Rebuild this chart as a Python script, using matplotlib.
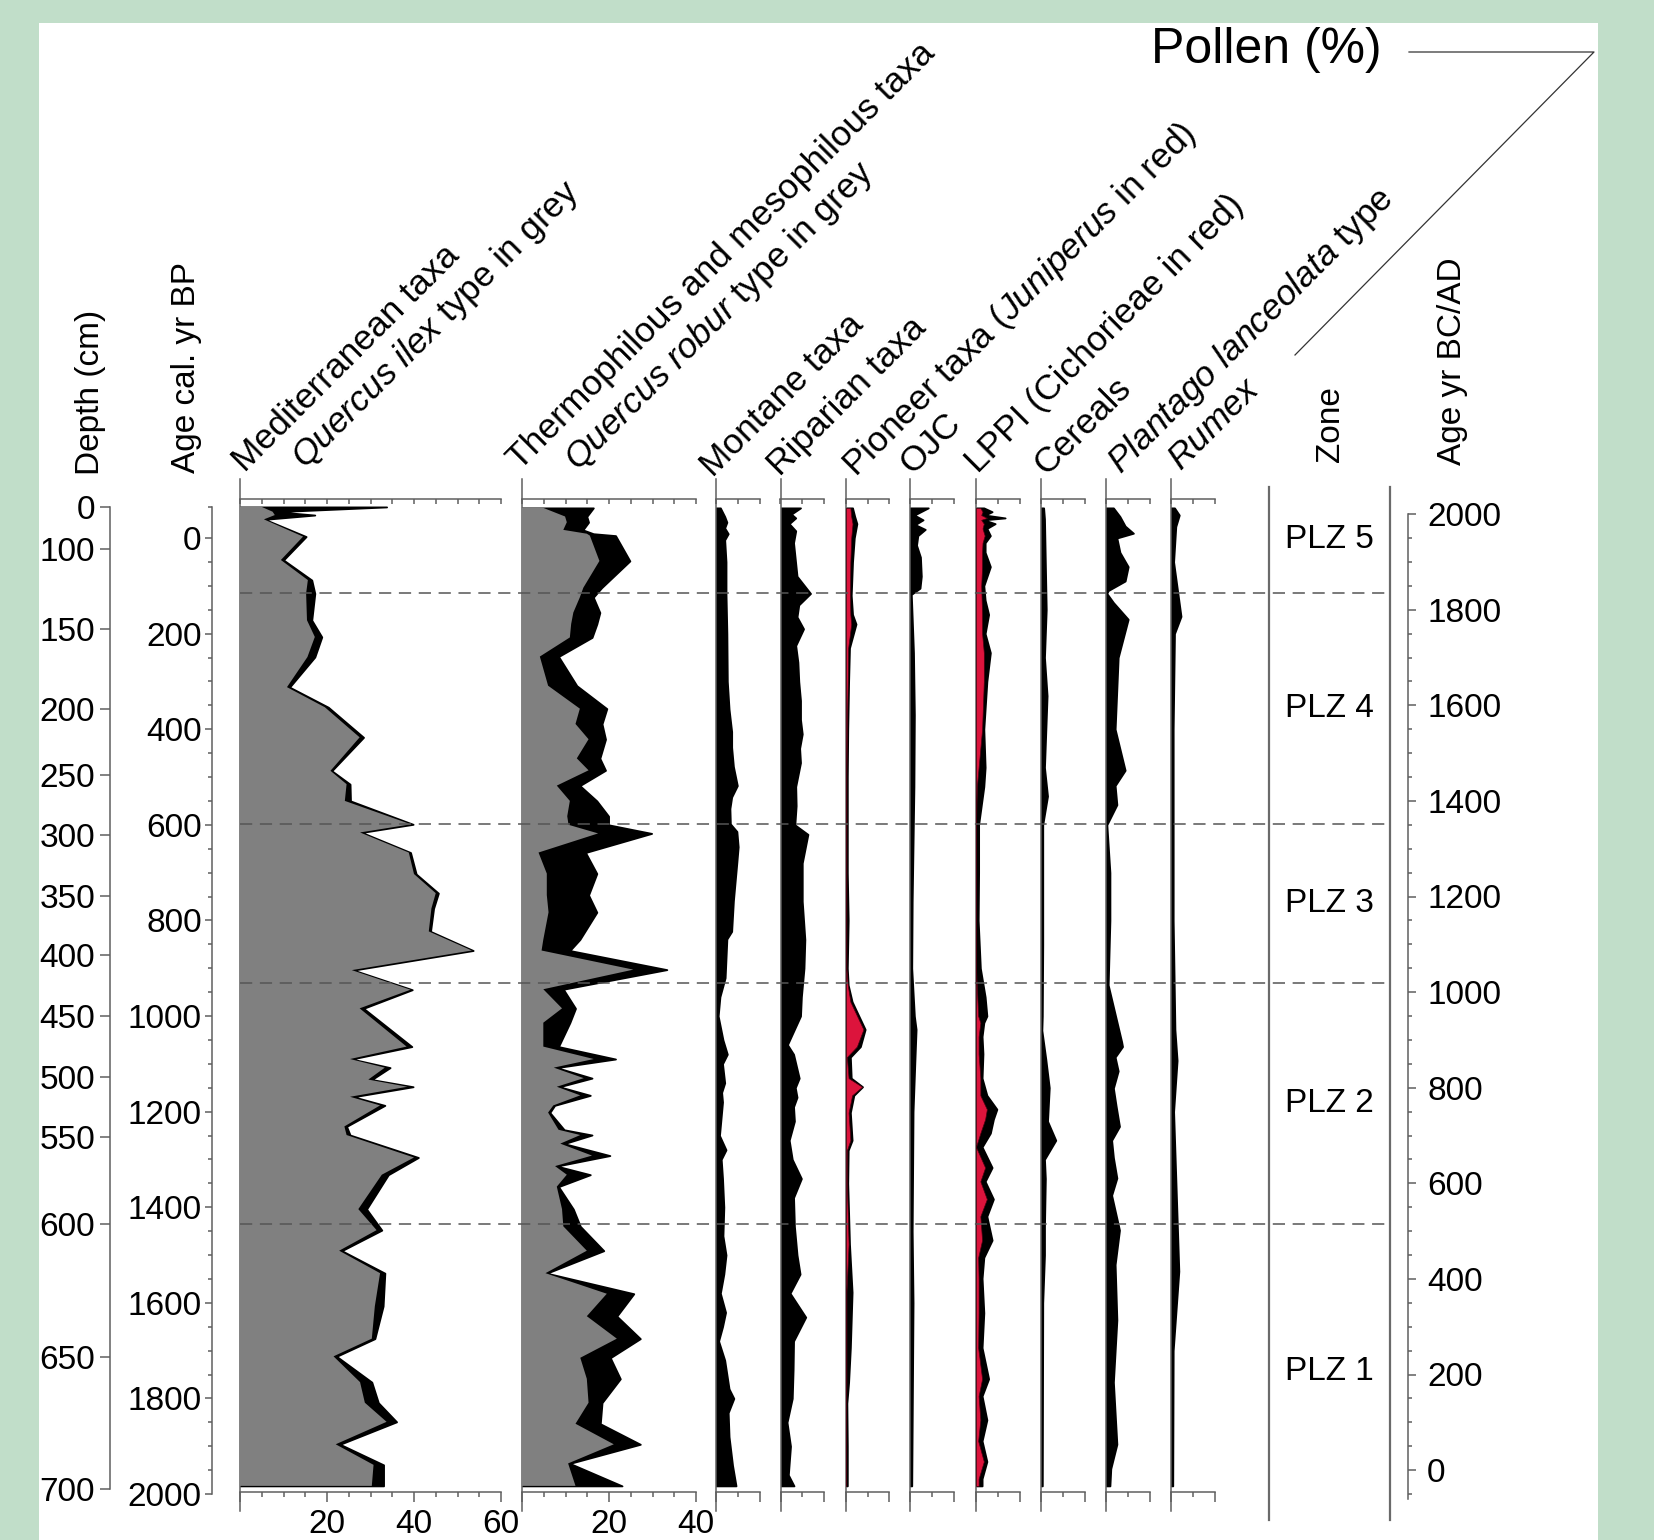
import numpy as np
import matplotlib
matplotlib.use("Agg")
import matplotlib.pyplot as plt
from matplotlib.patches import Rectangle
from matplotlib.lines import Line2D

plt.rcParams["font.family"] = ["Liberation Sans", "DejaVu Sans"]
plt.rcParams["font.size"] = 24
plt.rcParams["mathtext.fontset"] = "custom"
plt.rcParams["mathtext.rm"] = "Liberation Sans"
plt.rcParams["mathtext.it"] = "Liberation Sans:italic"

# ---------------- data (ages in cal. yr BP, values in %) ----------------
depth_ticks = [0, 100, 150, 200, 250, 300, 350, 400, 450, 500, 550, 600, 650, 700]
depth_tick_age = [-65, 22, 191, 357, 496, 621, 749, 872, 999, 1127, 1254, 1435, 1713, 1989]

zone_names = ["PLZ 5", "PLZ 4", "PLZ 3", "PLZ 2", "PLZ 1"]
zone_bounds = [115, 598, 930, 1435]

# Mediterranean taxa (total) / Quercus ilex type
med_age = [-65, -55, -48, -39, -3, 46, 88, 116, 172, 207, 249, 312, 354, 417, 487, 515, 550,
           599, 616, 658, 703, 743, 775, 823, 863, 904, 945, 984, 1064, 1090, 1108, 1133, 1148,
           1169, 1187, 1231, 1249, 1296, 1332, 1404, 1448, 1491, 1538, 1607, 1675, 1712, 1766,
           1809, 1849, 1896, 1939, 1983]
med_total = [33.7, 8.4, 17.2, 5.7, 15.2, 10.0, 16.5, 17.2, 16.5, 18.8, 17.2, 11.4, 20.3, 28.4,
             21.1, 25.3, 25.4, 39.8, 28.0, 39.2, 40.5, 45.6, 44.5, 43.8, 53.6, 26.1, 39.6, 28.4,
             39.5, 25.7, 34.5, 30.3, 39.8, 26.1, 33.3, 24.5, 25.3, 41.0, 34.1, 29.1, 32.6, 23.4,
             33.3, 32.9, 31.0, 22.2, 30.3, 31.8, 36.0, 23.0, 33.0, 33.0]
med_ilex = [5.0, 7.5, 8.0, 5.5, 14.5, 9.4, 15.6, 15.2, 15.4, 17.2, 15.5, 10.8, 19.5, 27.5, 20.8,
            24.5, 24.1, 39.3, 27.6, 38.8, 40.0, 45.0, 44.0, 43.4, 53.3, 25.7, 39.2, 27.5, 38.3,
            25.3, 33.3, 29.5, 38.5, 25.3, 32.2, 24.0, 24.5, 40.0, 32.6, 27.2, 31.4, 22.8, 32.2,
            31.0, 30.3, 21.5, 27.6, 28.7, 33.7, 22.0, 30.7, 30.3]

# Thermophilous and mesophilous taxa (total) / Quercus robur type
th_age = [-63, -45, -33, -17, -9, -5, 48, 104, 124, 156, 180, 208, 248, 309, 357, 389, 421, 461,
          486, 518, 550, 582, 600, 618, 658, 702, 747, 783, 840, 863, 903, 944, 984, 1014, 1064,
          1090, 1108, 1130, 1148, 1166, 1187, 1202, 1238, 1249, 1267, 1292, 1314, 1332, 1357,
          1404, 1440, 1491, 1538, 1581, 1628, 1675, 1715, 1759, 1809, 1853, 1896, 1936, 1983]
th_total = [16.4, 14.9, 15.3, 14.0, 16.4, 21.5, 24.8, 18.3, 16.4, 17.9, 17.2, 16.1, 8.4, 12.6,
            19.5, 18.4, 19.2, 17.9, 19.2, 13.3, 17.2, 19.9, 19.9, 29.8, 14.6, 17.2, 15.3, 17.2,
            13.3, 11.0, 33.3, 9.5, 12.3, 11.0, 8.4, 21.5, 8.0, 16.1, 8.6, 15.7, 7.5, 6.4, 9.7,
            16.1, 9.7, 20.2, 8.0, 15.7, 8.4, 11.8, 13.4, 18.8, 5.7, 25.7, 21.8, 27.2, 20.3, 22.6,
            18.4, 18.0, 27.2, 11.0, 23.0]
th_robur = [4.9, 9.9, 10.3, 9.5, 14.9, 15.6, 17.8, 14.1, 13.3, 11.8, 11.3, 11.0, 4.1, 6.0, 13.3,
            12.3, 15.3, 12.6, 15.3, 8.0, 11.0, 10.4, 10.7, 17.5, 3.8, 5.7, 5.7, 6.1, 4.9, 4.5,
            25.6, 4.9, 9.2, 4.9, 4.9, 16.5, 7.3, 14.2, 8.0, 13.4, 7.2, 6.0, 8.4, 13.4, 8.8, 16.1,
            7.6, 10.3, 8.0, 9.2, 9.5, 14.9, 5.4, 19.5, 14.9, 21.8, 13.4, 14.9, 15.3, 12.3, 21.1,
            10.6, 12.3]

montane_age = [-63, -45, -33, -21, -9, 4, 50, 116, 200, 300, 358, 405, 438, 478, 518, 542, 566,
               598, 614, 646, 678, 759, 823, 839, 920, 960, 1000, 1050, 1080, 1100, 1140, 1160,
               1180, 1250, 1280, 1300, 1340, 1400, 1460, 1500, 1540, 1580, 1620, 1650, 1680, 1720,
               1780, 1800, 1830, 1880, 1940, 1983]
montane = [1.0, 2.0, 2.5, 2.0, 2.8, 2.0, 2.3, 2.3, 2.5, 2.6, 3.0, 3.6, 3.6, 4.0, 4.9, 3.6, 3.2,
           3.3, 4.8, 5.1, 4.8, 4.0, 3.6, 2.5, 2.1, 0.9, 0.5, 1.6, 2.6, 1.5, 2.0, 1.3, 1.5, 0.8,
           2.3, 1.2, 1.5, 1.8, 1.6, 2.3, 1.8, 1.0, 2.2, 1.5, 0.6, 2.0, 3.0, 4.1, 2.8, 3.0, 3.8, 4.6]

riparian_age = [-63, -50, -42, -30, -15, 10, 80, 116, 140, 165, 190, 225, 260, 300, 340, 380,
                410, 440, 470, 520, 560, 600, 620, 680, 760, 840, 900, 960, 1000, 1060, 1080,
                1130, 1150, 1170, 1190, 1220, 1260, 1300, 1340, 1380, 1440, 1500, 1540, 1580,
                1630, 1680, 1740, 1800, 1850, 1900, 1960, 1983]
riparian = [4.6, 2.5, 3.5, 2.0, 3.5, 3.0, 3.8, 6.9, 4.2, 3.8, 5.3, 3.5, 4.0, 4.2, 4.6, 4.6, 5.0,
            4.4, 4.6, 3.5, 3.6, 3.3, 6.3, 5.0, 5.0, 5.6, 5.4, 4.8, 4.6, 1.6, 3.0, 4.3, 3.4, 3.8,
            3.0, 3.2, 2.0, 2.7, 4.8, 3.0, 3.2, 3.8, 4.5, 2.2, 5.8, 3.0, 2.9, 2.7, 1.5, 2.3, 1.8, 3.1]

pioneer_age = [-63, -45, -30, 0, 50, 120, 160, 180, 230, 300, 400, 500, 600, 700, 800, 900, 935,
               970, 1028, 1064, 1086, 1130, 1148, 1166, 1202, 1260, 1281, 1350, 1477, 1578, 1694,
               1766, 1810, 1900, 1983]
pioneer = [1.5, 2.0, 2.5, 1.9, 1.5, 1.2, 1.5, 2.3, 0.8, 0.6, 0.4, 0.3, 0.3, 0.3, 0.5, 0.3, 0.5,
           1.4, 4.4, 3.3, 1.0, 1.2, 3.8, 1.8, 1.0, 1.4, 0.5, 0.4, 0.8, 1.4, 1.0, 0.6, 0.2, 0.3, 0.3]
juniperus = [1.0, 1.2, 1.5, 1.2, 1.0, 0.9, 1.0, 1.2, 0.5, 0.4, 0.2, 0.1, 0.1, 0.1, 0.1, 0.1, 0.4,
             1.0, 4.0, 2.5, 0.2, 0.6, 3.7, 1.4, 0.6, 1.0, 0.2, 0.2, 0.6, 0.1, 0.1, 0.1, 0.0, 0.0, 0.0]

ojc_age = [-63, -48, -38, -28, -18, -5, 15, 40, 80, 105, 118, 240, 370, 520, 760, 900, 1000,
           1028, 1100, 1200, 1450, 1600, 1983]
ojc = [4.2, 1.0, 3.0, 1.2, 3.5, 1.8, 1.5, 2.4, 2.6, 2.3, 0.3, 0.8, 1.0, 0.9, 0.5, 0.4, 1.0, 1.4,
       1.1, 0.7, 0.5, 0.7, 0.4]

lppi_age = [-63, -55, -48, -42, -38, -30, -20, -5, 10, 30, 60, 100, 130, 160, 200, 240, 300, 400,
            480, 520, 600, 700, 800, 900, 960, 1000, 1014, 1043, 1079, 1130, 1166, 1195, 1216,
            1245, 1274, 1317, 1346, 1383, 1419, 1469, 1505, 1549, 1621, 1694, 1759, 1795, 1845,
            1889, 1932, 1968, 1983]
lppi = [1.8, 3.7, 2.1, 6.7, 1.8, 4.4, 2.5, 3.3, 2.1, 2.1, 3.3, 1.8, 2.1, 2.9, 2.1, 3.3, 2.5, 1.8,
        2.1, 1.8, 0.6, 0.6, 0.5, 1.0, 2.1, 2.5, 1.8, 1.4, 1.6, 1.4, 2.5, 4.8, 4.0, 3.3, 1.4, 3.7,
        2.1, 4.0, 2.5, 3.7, 1.8, 1.4, 1.8, 1.4, 2.9, 1.4, 2.5, 1.4, 2.5, 1.4, 1.4]
cichorieae = [1.0, 1.5, 1.2, 2.5, 1.2, 1.8, 1.5, 2.0, 1.5, 1.4, 1.4, 1.2, 1.3, 1.4, 1.4, 1.8, 1.8,
              1.4, 0.6, 0.2, 0.0, 0.0, 0.0, 0.0, 0.3, 0.5, 1.0, 0.6, 0.6, 1.0, 1.0, 2.5, 2.1, 1.0,
              0.0, 2.1, 1.0, 2.5, 1.0, 1.4, 0.5, 0.6, 0.6, 0.5, 1.4, 0.6, 1.0, 0.5, 1.8, 0.6, 0.6]

cereals_age = [-63, -40, 150, 250, 330, 480, 540, 600, 700, 850, 1000, 1030, 1090, 1150, 1220,
               1260, 1300, 1340, 1440, 1500, 1600, 1983]
cereals = [0.6, 0.8, 1.2, 0.8, 1.4, 0.8, 1.5, 0.4, 0.4, 0.4, 0.3, 0.2, 1.1, 1.9, 1.5, 3.4, 0.8,
           1.0, 0.8, 0.8, 0.4, 0.3]

plantago_age = [-63, -45, -25, -10, 0, 30, 60, 90, 110, 116, 135, 170, 250, 400, 486, 518, 558,
                600, 700, 800, 935, 1054, 1064, 1086, 1115, 1151, 1187, 1231, 1260, 1296, 1339,
                1375, 1448, 1520, 1636, 1766, 1896, 1947, 1983]
plantago = [1.7, 3.2, 4.4, 6.3, 2.5, 3.2, 5.1, 4.4, 0.5, 0.2, 1.7, 5.1, 2.8, 2.1, 4.4, 2.1, 2.5,
            0.2, 0.9, 0.9, 0.5, 3.6, 3.8, 2.1, 2.8, 1.7, 2.3, 3.1, 1.3, 1.7, 2.5, 1.3, 3.1, 2.1,
            2.5, 1.7, 2.5, 1.1, 0.9]

rumex_age = [-63, -48, -24, 50, 164, 200, 400, 800, 1028, 1093, 1200, 1534, 1700, 1983]
rumex = [0.8, 1.9, 1.1, 0.6, 2.3, 0.8, 0.5, 0.5, 0.9, 1.4, 0.6, 1.8, 0.5, 0.4]

# ---------------- layout (pixels of the 1654x1540 canvas) ----------------
W, H = 1654, 1540
GREEN = "#C1DEC9"
AXC = "#5f5f5f"
GREY = "#808080"
RED = "#DC143C"
Y_ZERO = 538.0      # pixel row of 0 cal. yr BP
PX_PER_YR = 0.478
PX_PER_PCT = 4.35
PANEL_TOP, PANEL_BOT = 479, 1511


def bp(ypx):
    return (ypx - Y_ZERO) / PX_PER_YR


def rect(x0, x1, y0, y1):
    return [x0 / W, 1 - y1 / H, (x1 - x0) / W, (y1 - y0) / H]


def fpos(x, y):
    return x / W, 1 - y / H


fig = plt.figure(figsize=(W / 100, H / 100), dpi=100, facecolor=GREEN)
fig.add_artist(Rectangle(fpos(39, 1540), (1598 - 39) / W, (1540 - 23) / H,
                         transform=fig.transFigure, facecolor="white", edgecolor="none", zorder=0))


def make_panel(x0, xmax, major, labels):
    ax = fig.add_axes(rect(x0, x0 + xmax * PX_PER_PCT, PANEL_TOP, PANEL_BOT))
    ax.set_xlim(0, xmax)
    ax.set_ylim(bp(PANEL_BOT), bp(PANEL_TOP))
    ax.patch.set_visible(False)
    for s in ["top", "right"]:
        ax.spines[s].set_visible(False)
    for s in ["left", "bottom"]:
        ax.spines[s].set_color(AXC)
        ax.spines[s].set_linewidth(1.1)
    ax.spines["bottom"].set_position(("data", bp(1492)))
    ax.set_yticks([])
    ax.set_xticks(np.arange(0, xmax + 1, major))
    ax.set_xticklabels(labels)
    ax.set_xticks(np.arange(0, xmax + 1, 5), minor=True)
    ax.tick_params(axis="x", which="major", length=7.2, width=1.1, color=AXC, pad=5)
    ax.tick_params(axis="x", which="minor", length=3.6, width=1.1, color=AXC)
    top = ax.twiny()
    top.set_xlim(0, xmax)
    for s in ["bottom", "left", "right"]:
        top.spines[s].set_visible(False)
    top.spines["top"].set_position(("data", bp(499)))
    top.spines["top"].set_color(AXC)
    top.spines["top"].set_linewidth(1.1)
    top.set_xticks(np.arange(0, xmax + 1, 5))
    top.tick_params(axis="x", direction="in", length=3.6, width=1.1, color=AXC, labeltop=False)
    return ax


def draw(ax, age, total, sub=None, sub_color=None):
    ax.fill_betweenx(age, 0, total, facecolor="black", edgecolor="black", lw=1.3, zorder=2)
    if sub is not None:
        edge = "none" if sub_color == GREY else "#4a0010"
        ax.fill_betweenx(age, 0, sub, facecolor=sub_color, edgecolor=edge, lw=0.5, zorder=3)


ax_med = make_panel(240, 60, 20, ["", "20", "40", "60"])
draw(ax_med, med_age, med_total, med_ilex, GREY)
ax_th = make_panel(522, 40, 20, ["", "20", "40"])
draw(ax_th, th_age, th_total, th_robur, GREY)

small = [
    (716, montane_age, montane, None, None),
    (780.5, riparian_age, riparian, None, None),
    (846, pioneer_age, pioneer, juniperus, RED),
    (910, ojc_age, ojc, None, None),
    (976, lppi_age, lppi, cichorieae, RED),
    (1041, cereals_age, cereals, None, None),
    (1106, plantago_age, plantago, None, None),
    (1171, rumex_age, rumex, None, None),
]
for x0, age, vals, sub, col in small:
    ax = make_panel(x0, 10, 10, ["", ""])
    draw(ax, age, vals, sub, col)

# depth axis
ax_d = fig.add_axes(rect(110, 140, PANEL_TOP, PANEL_BOT))
ax_d.set_ylim(bp(PANEL_BOT), bp(PANEL_TOP))
ax_d.patch.set_visible(False)
for s in ["top", "right", "bottom"]:
    ax_d.spines[s].set_visible(False)
ax_d.spines["left"].set_bounds(depth_tick_age[0], depth_tick_age[-1])
ax_d.spines["left"].set_color(AXC)
ax_d.spines["left"].set_linewidth(1.1)
ax_d.set_xticks([])
ax_d.set_yticks(depth_tick_age)
ax_d.set_yticklabels([str(d) for d in depth_ticks])
ax_d.tick_params(axis="y", length=7.2, width=1.1, color=AXC, pad=3.5)

# age cal. yr BP axis
ax_a = fig.add_axes(rect(212, 240, PANEL_TOP, PANEL_BOT))
ax_a.set_ylim(bp(PANEL_BOT), bp(PANEL_TOP))
ax_a.patch.set_visible(False)
for s in ["top", "right", "bottom"]:
    ax_a.spines[s].set_visible(False)
ax_a.spines["left"].set_bounds(-65, 2000)
ax_a.spines["left"].set_color(AXC)
ax_a.spines["left"].set_linewidth(1.1)
ax_a.set_xticks([])
ax_a.set_yticks(np.arange(0, 2001, 200))
ax_a.set_yticks([-65] + [a for a in range(50, 2000, 50) if a % 200], minor=True)
ax_a.tick_params(axis="y", which="major", length=5.2, width=1.1, color=AXC, pad=2.2)
ax_a.tick_params(axis="y", which="minor", length=3.0, width=1.1, color=AXC)

# age BC/AD axis
ad_major = np.arange(0, 2001, 200)
ad_minor = [a for a in range(-50, 2001, 50) if a % 200]
ax_c = fig.add_axes(rect(1380, 1408, PANEL_TOP, PANEL_BOT))
ax_c.set_ylim(bp(PANEL_BOT), bp(PANEL_TOP))
ax_c.patch.set_visible(False)
for s in ["top", "left", "bottom"]:
    ax_c.spines[s].set_visible(False)
ax_c.spines["right"].set_bounds(1950 - 2000, 2010)
ax_c.spines["right"].set_color(AXC)
ax_c.spines["right"].set_linewidth(1.1)
ax_c.set_xticks([])
ax_c.yaxis.tick_right()
ax_c.set_yticks(1950 - ad_major)
ax_c.set_yticklabels([str(a) for a in ad_major])
ax_c.set_yticks([1950 - a for a in ad_minor], minor=True)
ax_c.tick_params(axis="y", which="major", length=5.8, width=1.1, color=AXC, pad=8)
ax_c.tick_params(axis="y", which="minor", length=3.0, width=1.1, color=AXC)

# zone column
ax_z = fig.add_axes(rect(1269, 1390, 487, 1520))
ax_z.set_ylim(bp(1520), bp(487))
ax_z.patch.set_visible(False)
ax_z.set_xticks([])
ax_z.set_yticks([])
for s in ["top", "bottom"]:
    ax_z.spines[s].set_visible(False)
for s in ["left", "right"]:
    ax_z.spines[s].set_color("#6a6a6a")
    ax_z.spines[s].set_linewidth(1.6)
edges = [bp(487)] + zone_bounds + [bp(1520)]
for i, name in enumerate(zone_names):
    ax_z.text(0.5, (edges[i] + edges[i + 1]) / 2, name, transform=ax_z.get_yaxis_transform(),
              ha="center", va="center", fontsize=24)

# dashed zone boundaries
ax_dash = fig.add_axes(rect(240, 1390, PANEL_TOP, PANEL_BOT))
ax_dash.set_ylim(bp(PANEL_BOT), bp(PANEL_TOP))
ax_dash.axis("off")
for b in zone_bounds:
    ax_dash.axhline(b, color="#555555", lw=1.1, ls=(0, (8, 5)))

# axis titles
fig.text(*fpos(91, 475), "Depth (cm)", rotation=90, ha="center", va="bottom")
fig.text(*fpos(187, 473), "Age cal. yr BP", rotation=90, ha="center", va="bottom")
fig.text(*fpos(1331, 462), "Zone", rotation=90, ha="center", va="bottom")
fig.text(*fpos(1453, 465), "Age yr BC/AD", rotation=90, ha="center", va="bottom")

column_titles = [
    ("Mediterranean taxa", 245, 473),
    (r"$\mathit{Quercus\ ilex}$ type in grey", 305, 470),
    ("Thermophilous and mesophilous taxa", 520, 471),
    (r"$\mathit{Quercus\ robur}$ type in grey", 578, 472),
    ("Montane taxa", 713, 478),
    ("Riparian taxa", 780, 477),
    (r"Pioneer taxa ($\mathit{Juniperus}$ in red)", 856, 478),
    ("OJC", 912, 475),
    ("LPPI (Cichorieae in red)", 978, 474),
    ("Cereals", 1046, 476),
    (r"$\mathit{Plantago\ lanceolata}$ type", 1121, 475),
    (r"$\mathit{Rumex}$", 1181, 472),
]
for s, x, y in column_titles:
    fig.text(*fpos(x, y), s, rotation=45, rotation_mode="anchor", ha="left", va="baseline",
             fontsize=25.5)

fig.text(*fpos(1266, 63), "Pollen (%)", ha="center", va="baseline", fontsize=36)
fig.add_artist(Line2D([1409 / W, 1594 / W, 1295 / W], [1 - 52 / H, 1 - 52 / H, 1 - 355 / H],
                      transform=fig.transFigure, color="#333333", lw=0.9))

fig.savefig("out.png", dpi=100, facecolor=GREEN)
